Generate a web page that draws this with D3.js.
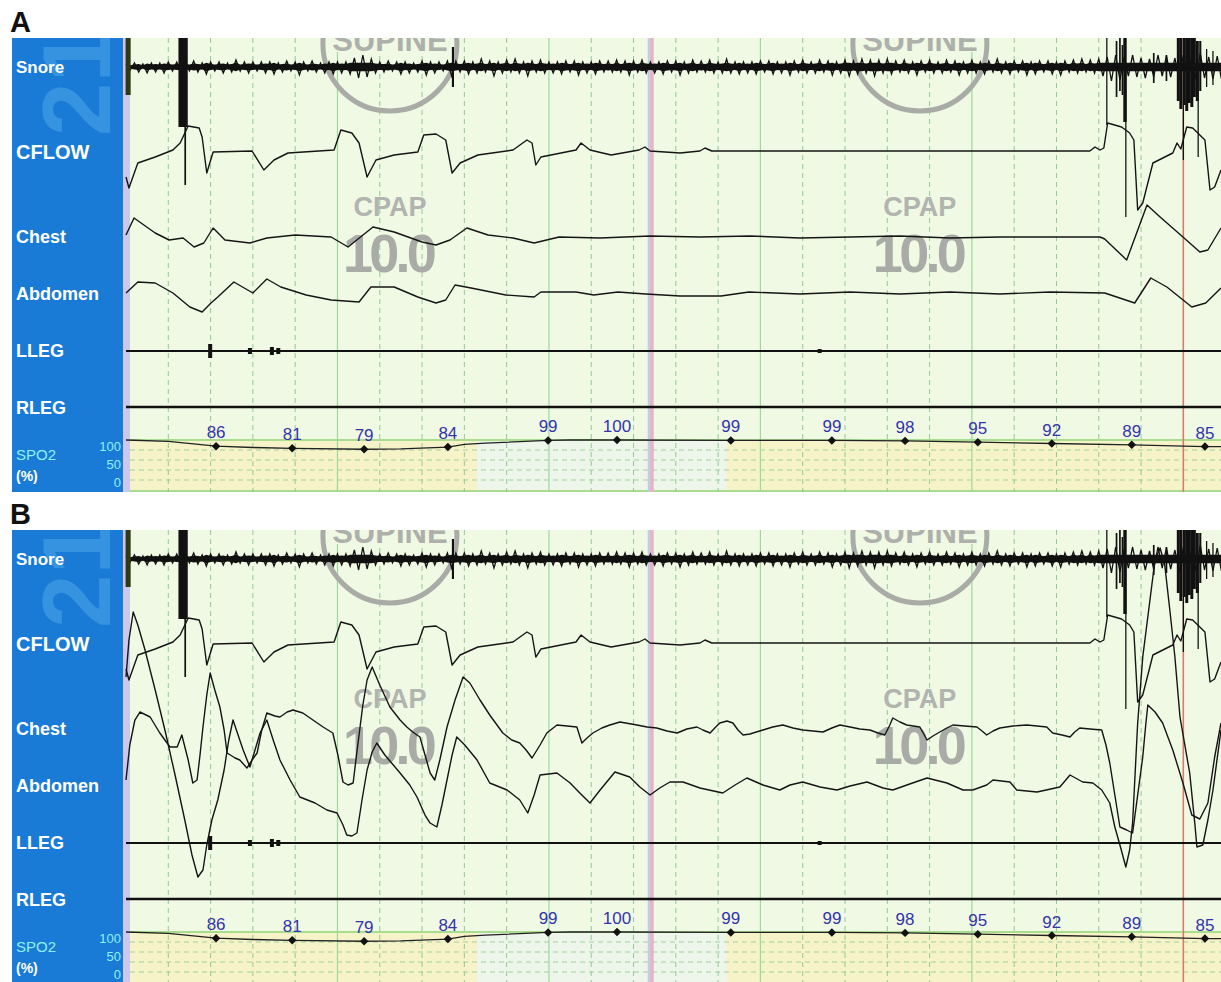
<!DOCTYPE html>
<html>
<head>
<meta charset="utf-8">
<script src="https://cdn.jsdelivr.net/npm/d3@7"></script>
<style>
  body { margin: 0; background: #fff; }
  svg { display: block; font-family: "Liberation Sans", Arial, sans-serif; }
</style>
</head>
<body>
<div id="chart"></div>
<script>
// Channel names in the label column
const channels = ["Snore", "CFLOW", "Chest", "Abdomen", "LLEG", "RLEG"];

// Snore envelope: half amplitude every 0.1 s
const snoreAmp = [3,3,4,5,3,6,4,5,4,6,5,4,5,5,5,4,6,5,4,7,5,4,5,6,4,5,7,4,5,6,5,
  4,5,6,5,7,4,5,6,4,5,8,5,4,6,5,4,6,5,7,5,
  6,5,7,9,11,12,10,8,6,5,
  5,6,4,5,7,5,6,4,5,6,8,5,6,5,4,
  6,9,6,
  5,6,7,5,6,8,5,6,9,5,6,7,5,8,6,5,9,6,5,7,6,5,
  6,5,7,6,5,6,8,5,6,5,7,6,5,6,5,7,5,6,8,6,5,7,6,5,6,5,7,6,5,6,8,5,6,7,5,6,5,7,6,5,6,8,6,5,7,5,6,5,7,6,
  5,6,7,5,6,5,8,6,5,7,6,5,6,7,5,6,8,5,6,7,9,6,7,8,6,7,9,7,6,8,7,6,5,7,6,5,8,6,5,7,6,5,6,7,5,6,8,5,6,7,
  6,5,7,6,5,8,6,5,7,6,5,6,8,5,7,6,5,6,7,5,8,6,5,7,6,8,5,7,6,8,
  9,10,14,12,13,10,9,12,10,9,11,8,10,12,9,11,10,9,13,12,11,10,12,14,11,10,12,11,12];
// Large snore events: [time s, up, down, width s]
const snoreBursts = [[0.05,30,28,0.12],[1.35,30,60,0.22],[1.4,0,118,0.04],[7.73,20,20,0.05],
  [23.19,30,58,0.03],[23.42,26,30,0.04],[23.5,30,24,0.04],[23.56,22,28,0.04],
  [23.62,30,55,0.08],[23.64,0,150,0.03],[24.3,14,16,0.04],[24.6,12,14,0.04],
  [24.88,30,34,0.07],[24.94,30,42,0.07],[25.0,0,93,0.03],[25.02,30,38,0.07],[25.08,30,44,0.07],
  [25.14,30,36,0.07],[25.2,30,40,0.07],[25.26,30,30,0.07],[25.35,0,90,0.03],[25.33,26,34,0.07],
  [25.4,26,24,0.05],[25.55,18,20,0.03],[25.7,16,18,0.03]];

// Nasal flow (same recording in A and B): [time s, amplitude]
const cflow = [[0,-26],[0.07,-37],[0.28,-12],[0.69,-6],[1.11,1],[1.28,8],[1.47,25],[1.73,23],
  [1.8,14],[1.91,-22],[2.06,-1],[2.98,0],[3.26,-19],[3.5,-9],[3.83,-2],[4.92,1],[5.08,21],
  [5.34,18],[5.51,8],[5.7,-26],[5.91,-9],[6.34,-4],[6.9,-1],[7.04,16],[7.33,17],[7.56,11],
  [7.71,-22],[7.9,-12],[8.32,-4],[9.15,1],[9.48,11],[9.6,8],[9.69,-14],[9.81,-6],[10.64,1],
  [10.76,8],[10.97,1],[11.47,-4],[12.13,1],[12.27,4],[12.39,0],[13.1,-2],[13.57,0],[13.69,3],
  [13.85,0],[22.79,0],[22.91,4],[23.03,1],[23.12,3],[23.21,28],[23.54,24],[23.73,18],[23.83,11],
  [23.92,-59],[24.04,-52],[24.28,-12],[24.75,-2],[24.85,8],[24.94,2],[25.08,24],[25.22,23],
  [25.51,11],[25.63,-39],[25.74,-36],[25.89,-19]];

// Chest and abdomen, panel A
const chestA = [[0,2],[0.19,19],[0.69,4],[1.02,-3],[1.35,-1],[1.61,-10],[1.84,-6],[2.06,9],
  [2.34,-3],[2.93,-6],[3.33,-1],[4,2],[4.85,0],[5.25,-10],[5.84,10],[6.34,5],[7,-5],[7.33,-8],
  [7.66,-3],[8.06,9],[8.56,2],[9.15,-1],[9.65,-6],[10.24,0],[11.21,-1],[12.39,1],[13.57,0],
  [14.75,1],[15.93,-1],[17.12,0],[18.3,1],[19.48,-1],[20.66,0],[21.84,0],[23.03,0],[23.14,-2],
  [23.66,-23],[24.14,32],[24.45,20],[24.99,0],[25.39,-15],[25.58,-13],[25.89,9]];
const abdomenA = [[0,0],[0.28,11],[0.69,10],[1.11,0],[1.51,-14],[1.8,-19],[2.01,-10],[2.17,-4],
  [2.55,11],[3,0],[3.33,14],[3.66,6],[4.26,-2],[4.85,-7],[5.51,-9],[5.79,6],[6.34,6],[6.9,-4],
  [7.33,-10],[7.56,-7],[7.78,8],[8.16,5],[8.98,-2],[9.65,-4],[9.81,1],[10.64,1],[11.06,-2],
  [11.63,1],[12.29,-1],[13.1,-3],[14.07,-3],[14.73,1],[15.93,-1],[17.12,1],[18.3,-1],[19.48,1],
  [20.66,-1],[21.84,1],[23.14,0],[23.85,-10],[24.23,15],[24.61,6],[25.2,-14],[25.53,-10],[25.89,5]];

// Chest and abdomen, panel B
const chestB = [[0,-53],[0.09,-18],[0.21,7],[0.33,15],[0.57,10],[0.8,-6],[1.04,-20],[1.21,-20],
  [1.32,-8],[1.47,-33],[1.58,-56],[1.68,-53],[1.75,-28],
  [1.82,0],[1.91,32],[1.99,54],[2.1,37],[2.22,20],[2.32,-3],[2.39,-26],[2.58,-31],[2.69,-33],
  [2.86,-41],[2.98,-33],[3.1,-26],[3.21,-3],[3.33,14],[3.52,11],[3.64,10],[3.81,15],[3.95,17],
  [4.18,14],[4.42,7],[4.66,0],[4.89,-6],[5.01,-28],[5.13,-55],[5.25,-58],[5.37,-56],[5.48,-18],
  [5.6,22],[5.7,47],[5.82,60],[6,42],[6.24,20],[6.48,7],[6.64,0],[6.78,-5],[6.95,-10],[7.07,-28],
  [7.19,-46],[7.3,-53],[7.42,-33],[7.59,0],[7.78,27],[7.97,50],[8.13,44],[8.37,27],[8.6,12],
  [8.91,-6],[9.12,-13],[9.31,-16],[9.46,-23],[9.6,-31],[9.79,-18],[9.95,-6],[10.19,2],[10.43,1],
  [10.66,0],[10.78,-16],[10.9,-11],[11.04,-6],[11.25,-1],[11.44,2],[11.68,5],[12.08,2],[12.32,0],
  [12.55,-1],[12.79,-4],[13.03,-6],[13.26,-2],[13.5,0],[13.64,-3],[13.81,-6],[13.92,-1],[14.04,4],
  [14.21,6],[14.35,4],[14.47,-3],[14.59,-8],[14.75,-7],[15.06,-3],[15.29,0],[15.53,2],[15.77,-1],
  [16,-3],[16.24,-4],[16.48,-5],[16.69,-1],[16.88,2],[17.12,0],[17.35,-2],[17.59,-3],[17.78,-6],
  [17.94,-8],[18.06,2],[18.13,9],[18.3,5],[18.46,2],[18.77,0],[18.94,-13],[19.08,-9],[19.24,-5],
  [19.41,-1],[19.55,2],[19.83,1],[20.12,0],[20.24,-4],[20.35,-8],[20.5,-4],[20.66,-1],[20.97,1],
  [21.3,2],[21.54,1],[21.77,0],[21.91,-6],[22.13,-8],[22.32,-10],[22.43,-5],[22.55,-1],[22.79,-2],
  [23.07,-3],[23.17,-18],[23.26,-36],[23.38,-68],[23.5,-100],[23.66,-103],[23.8,-106],[23.92,-68],
  [24.04,-30],[24.11,2],[24.16,22],[24.33,15],[24.51,4],[24.75,-23],[24.99,-56],[25.2,-88],
  [25.39,-92],[25.58,-76],[25.74,-30],[25.89,4]];
const abdomenB = [[0,108],[0.07,145],[0.17,173],[0.28,160],[0.45,135],[0.69,95],[0.92,55],
  [1.16,10],[1.39,-35],[1.56,-70],[1.7,-92],[1.82,-85],[1.91,-60],[2.03,-35],[2.17,-15],[2.32,15],
  [2.43,45],[2.53,65],[2.65,50],[2.77,35],[2.93,18],[3.05,35],[3.17,52],[3.33,65],[3.48,45],
  [3.64,25],[3.88,5],[4.11,-12],[4.47,-18],[4.75,-25],[4.99,-28],[5.13,-40],[5.22,-50],[5.34,-51],
  [5.46,-48],[5.58,-15],[5.7,15],[5.82,33],[5.93,42],[6.12,30],[6.48,12],[6.71,0],[6.88,-12],
  [7.07,-30],[7.19,-38],[7.35,-42],[7.47,-20],[7.59,5],[7.71,30],[7.82,48],[8.01,40],[8.3,25],
  [8.6,2],[9.01,-5],[9.31,-15],[9.5,-28],[9.65,-10],[9.79,10],[10.19,12],[10.5,2],[10.73,-8],
  [10.97,-18],[11.21,-5],[11.56,13],[11.91,8],[12.15,-2],[12.39,-10],[12.62,-3],[12.86,3],
  [13.17,3],[13.57,-3],[14.11,-8],[14.4,0],[14.68,7],[15.06,0],[15.46,-5],[15.7,0],[16,3],
  [16.41,-2],[16.81,-5],[17.12,-1],[17.52,3],[17.9,-3],[18.13,-5],[18.53,1],[18.94,7],[19.41,2],
  [19.79,-5],[20.02,-5],[20.35,0],[20.5,5],[20.9,3],[21.06,-5],[21.54,-7],[22.08,-2],[22.32,10],
  [22.62,3],[22.86,2],[23.07,-5],[23.26,-18],[23.38,-42],[23.5,-60],[23.64,-82],[23.73,-65],
  [23.8,-38],[23.92,62],[24.04,128],[24.21,185],[24.33,225],[24.45,237],[24.56,220],[24.68,175],
  [24.8,128],[24.92,68],[25.15,12],[25.27,-38],[25.32,-62],[25.46,-60],[25.58,-35],[25.7,-5],[25.89,55]];

// Leg EMG bursts: [time s, amplitude]
const llegBursts = [[1.99,7],[2.93,3],[3.45,4],[3.6,3],[16.4,2]];

// SpO2 (%) trace and annotated values
const spo2Trace = [[0,100],[1,97],[2.13,86],[3,83],[3.93,81],[5.63,79],[6.5,80],[7.61,84],[8,90],
  [8.5,93],[9.98,99],[10.5,100],[11.61,100],[14.3,99],[16.69,99],[18.42,98],[20.14,95],
  [21.89,92],[23.78,89],[25.51,85],[25.89,85]];
const spo2Times = [2.13,3.93,5.63,7.61,9.98,11.61,14.3,16.69,18.42,20.14,21.89,23.78,25.51];
const spo2Values = [86,81,79,84,99,100,99,99,98,95,92,89,85];
const spo2Ticks = [100, 50, 0];

// Event markers and watermark positions (s)
const markerTimes = [12.43, 25];
const watermarkTimes = [6.24, 18.77];

const W = 1221, H = 982;
const svg = d3.select("#chart").append("svg").attr("width", W).attr("height", H);

const x = d3.scaleLinear().domain([0, 25.89]).range([126, 1221]);
const panelH = 454;
const bg = "#f0f9e4";

const panels = [
  {id: "A", top: 38, chest: chestA, abdomen: abdomenA, chestOff: 199},
  {id: "B", top: 530, chest: chestB, abdomen: abdomenB, chestOff: 197}
];

function chanScale(base) {
  return d3.scaleLinear().domain([-100, 100]).range([base + 100, base - 100]);
}

panels.forEach((p, pi) => {
  const top = p.top;
  const g = svg.append("g");

  // panel letter
  svg.append("text").attr("x", 10).attr("y", top - 6)
    .attr("font-size", 29).attr("font-weight", "bold").attr("fill", "#111").text(p.id);

  // label column with faint "21" logo
  g.append("rect").attr("x", 12).attr("y", top).attr("width", 111).attr("height", panelH)
    .attr("fill", "#1a7bd6");
  const clipL = "clipL" + pi;
  svg.append("clipPath").attr("id", clipL).append("rect")
    .attr("x", 12).attr("y", top).attr("width", 111).attr("height", panelH);
  g.append("g").attr("clip-path", `url(#${clipL})`)
    .append("text")
    .attr("transform", `translate(110,${top + 98}) rotate(-90)`)
    .attr("font-size", 96).attr("font-weight", "bold").attr("fill", "#3693df")
    .text("21");

  // plot area background
  g.append("rect").attr("x", 123).attr("y", top).attr("width", W - 123).attr("height", panelH)
    .attr("fill", bg);
  g.append("rect").attr("x", 123).attr("y", top).attr("width", 7).attr("height", panelH)
    .attr("fill", "#cbc8ea");

  const clipId = "clip" + pi;
  svg.append("clipPath").attr("id", clipId).append("rect")
    .attr("x", 124).attr("y", top).attr("width", W - 124).attr("height", panelH);
  const plot = svg.append("g").attr("clip-path", `url(#${clipId})`);

  // SpO2 strip
  const sy = d3.scaleLinear().domain([0, 100]).range([top + 446, top + 402]);
  plot.append("rect").attr("x", 130).attr("y", sy(100)).attr("width", W).attr("height", panelH - 402)
    .attr("fill", "#f6f3c8");
  plot.append("rect").attr("x", x(8.3)).attr("y", sy(100) + 1).attr("width", x(14.2) - x(8.3))
    .attr("height", panelH - 402).attr("fill", "#eef5ea");
  [top + 412, top + 422, top + 432, top + 442].forEach(yy => {
    plot.append("line").attr("x1", 130).attr("x2", W).attr("y1", yy).attr("y2", yy)
      .attr("stroke", "#9fd39f").attr("stroke-width", 1).attr("stroke-dasharray", "5,4");
  });
  plot.append("line").attr("x1", 130).attr("x2", W).attr("y1", sy(100)).attr("y2", sy(100))
    .attr("stroke", "#a9dc8f").attr("stroke-width", 2);
  plot.append("line").attr("x1", 130).attr("x2", W).attr("y1", top + 453).attr("y2", top + 453)
    .attr("stroke", "#a9dc8f").attr("stroke-width", 2);

  // vertical grid: dashed every second, solid every 5 s
  d3.range(1, 26).forEach(s => {
    plot.append("line").attr("x1", x(s)).attr("x2", x(s)).attr("y1", top).attr("y2", top + panelH)
      .attr("stroke", s % 5 === 0 ? "#9dd89d" : "#94c994")
      .attr("stroke-width", s % 5 === 0 ? 1.2 : 1)
      .attr("stroke-dasharray", s % 5 === 0 ? null : "5,4");
  });

  // watermarks
  watermarkTimes.forEach(tc => {
    const cx = x(tc);
    plot.append("circle").attr("cx", cx).attr("cy", top + 6).attr("r", 67)
      .attr("fill", "none").attr("stroke", "#a9aca6").attr("stroke-width", 5);
    plot.append("rect").attr("x", cx - 58).attr("y", top - 20).attr("width", 116).attr("height", 34)
      .attr("fill", bg);
    plot.append("text").attr("x", cx).attr("y", top + 13).attr("text-anchor", "middle")
      .attr("font-size", 31).attr("font-weight", "bold").attr("fill", "#aeb0ab").text("SUPINE");
    plot.append("text").attr("x", cx).attr("y", top + 178).attr("text-anchor", "middle")
      .attr("font-size", 27).attr("font-weight", "bold").attr("fill", "#b2b4af").text("CPAP");
    plot.append("text").attr("x", cx).attr("y", top + 234).attr("text-anchor", "middle")
      .attr("font-size", 54).attr("font-weight", "bold").attr("fill", "#a9aba6")
      .attr("textLength", 94).text("10.0");
  });

  // event markers
  plot.append("line").attr("x1", x(markerTimes[0]) - 3).attr("x2", x(markerTimes[0]) - 3)
    .attr("y1", top).attr("y2", top + panelH).attr("stroke", "#b8cde8").attr("stroke-width", 2);
  plot.append("line").attr("x1", x(markerTimes[0])).attr("x2", x(markerTimes[0]))
    .attr("y1", top).attr("y2", top + panelH).attr("stroke", "#e4b4c9").attr("stroke-width", 4);
  plot.append("line").attr("x1", x(markerTimes[1])).attr("x2", x(markerTimes[1]))
    .attr("y1", top).attr("y2", top + panelH).attr("stroke", "#e0776a").attr("stroke-width", 1.5);

  // snore: filled core plus spiky zig-zag edge
  const ySn = chanScale(top + 29);
  const snorePts = snoreAmp.map((a, i) => [i * 0.1, a]);
  plot.append("path").datum(snorePts)
    .attr("d", d3.area().x(d => x(d[0])).y0(d => ySn(-Math.min(d[1], 7) * 0.6)).y1(d => ySn(Math.min(d[1], 7) * 0.6)))
    .attr("fill", "#111");
  plot.append("path").datum(snorePts)
    .attr("d", d3.line().x(d => x(d[0])).y((d, i) => ySn(i % 2 ? -d[1] : d[1])))
    .attr("fill", "none").attr("stroke", "#111").attr("stroke-width", 1.3);
  snoreBursts.forEach((b, i) => {
    plot.append("rect").attr("x", x(b[0] - b[3] / 2)).attr("y", ySn(b[1]))
      .attr("width", Math.max(1.2, x(b[3]) - x(0))).attr("height", ySn(-b[2]) - ySn(b[1]))
      .attr("fill", i === 0 ? "#2f3a14" : "#111");
  });

  // breathing channels
  const line = ys => d3.line().x(d => x(d[0])).y(d => ys(d[1]));
  const trace = (data, ys) => plot.append("path").datum(data).attr("d", line(ys))
    .attr("fill", "none").attr("stroke", "#151515").attr("stroke-width", 1.4)
    .attr("stroke-linejoin", "round");
  trace(cflow, chanScale(top + 113));
  trace(p.chest, chanScale(top + p.chestOff));
  trace(p.abdomen, chanScale(top + 255));

  // legs
  const yL = chanScale(top + 313);
  plot.append("line").attr("x1", 126).attr("x2", W).attr("y1", yL(0)).attr("y2", yL(0))
    .attr("stroke", "#111").attr("stroke-width", 2);
  llegBursts.forEach(b => {
    plot.append("rect").attr("x", x(b[0]) - 2).attr("y", yL(b[1]))
      .attr("width", 4).attr("height", yL(-b[1]) - yL(b[1])).attr("fill", "#111");
  });
  const yR = chanScale(top + 369);
  plot.append("line").attr("x1", 126).attr("x2", W).attr("y1", yR(0)).attr("y2", yR(0))
    .attr("stroke", "#111").attr("stroke-width", 2.5);

  // SpO2 trace
  plot.append("path").datum(spo2Trace)
    .attr("d", d3.line().x(d => x(d[0])).y(d => sy(d[1])))
    .attr("fill", "none").attr("stroke", "#222").attr("stroke-width", 1.3);
  plot.selectAll(null).data(spo2Values).enter().append("rect")
    .attr("x", (d, i) => x(spo2Times[i]) - 3).attr("y", d => sy(d) - 3)
    .attr("width", 6).attr("height", 6).attr("fill", "#111")
    .attr("transform", (d, i) => `rotate(45,${x(spo2Times[i])},${sy(d)})`);
  plot.selectAll(null).data(spo2Values).enter().append("text")
    .attr("x", (d, i) => x(spo2Times[i])).attr("y", d => sy(d) - 8)
    .attr("text-anchor", "middle").attr("font-size", 17).attr("fill", "#3434a8")
    .text(d => d);

  // channel labels
  const labelY = [29, 114, 199, 256, 313, 370];
  const labelSize = [17, 20, 18, 18, 18, 18];
  channels.forEach((c, i) => {
    g.append("text").attr("x", 16).attr("y", top + labelY[i]).attr("dy", "0.35em")
      .attr("font-size", labelSize[i]).attr("font-weight", "bold").attr("fill", "#fff").text(c);
  });
  g.append("text").attr("x", 16).attr("y", top + 417).attr("dy", "0.35em")
    .attr("font-size", 15).attr("fill", "#8ef0f5").text("SPO2");
  g.append("text").attr("x", 16).attr("y", top + 438).attr("dy", "0.35em")
    .attr("font-size", 14).attr("font-weight", "bold").attr("fill", "#fff").text("(%)");
  const tickY = d3.scaleLinear().domain([0, 100]).range([top + 444, top + 408]);
  spo2Ticks.forEach(v => {
    g.append("text").attr("x", 121).attr("y", tickY(v)).attr("dy", "0.35em")
      .attr("text-anchor", "end").attr("font-size", 13).attr("fill", "#8ef0f5").text(v);
  });
});
</script>
</body>
</html>
